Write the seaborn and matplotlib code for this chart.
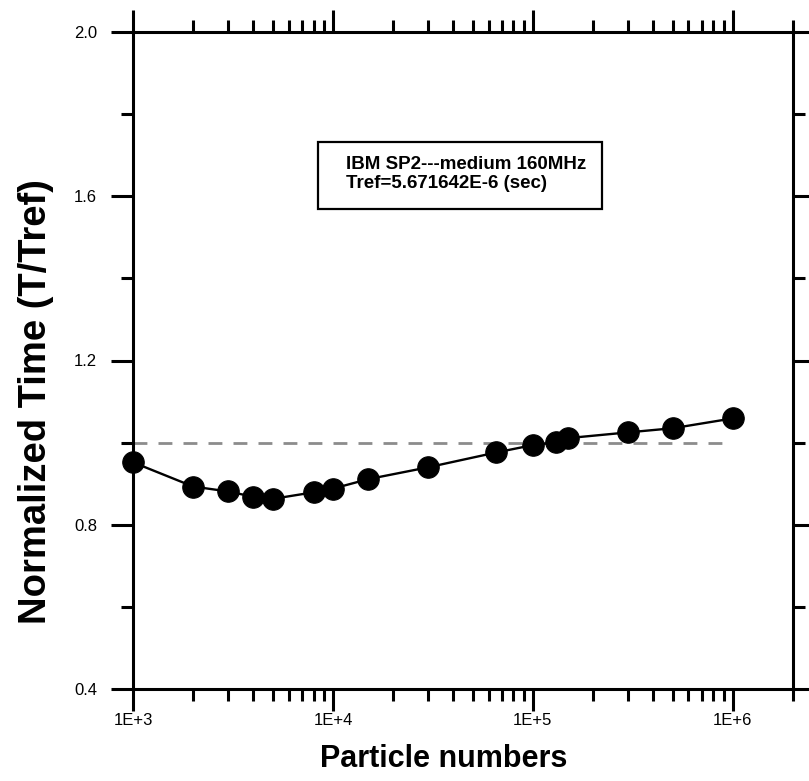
import numpy as np
import pandas as pd
import matplotlib
matplotlib.use("Agg")
import matplotlib.pyplot as plt
import seaborn as sns
from matplotlib.ticker import FixedLocator, FixedFormatter, NullFormatter
from matplotlib.patches import Rectangle

sns.set_style("white")
plt.rcParams['font.family'] = ['Liberation Sans', 'DejaVu Sans']
plt.rcParams['text.color'] = 'black'
plt.rcParams['axes.labelcolor'] = 'black'
plt.rcParams['xtick.color'] = 'black'
plt.rcParams['ytick.color'] = 'black'

particles = [1000, 2000, 3000, 4000, 5000, 8000, 10000, 15000, 30000,
             65536, 100000, 131072, 150000, 300000, 500000, 1000000]
norm_time = [0.952, 0.893, 0.881, 0.868, 0.863, 0.879, 0.888, 0.911, 0.940,
             0.976, 0.994, 1.001, 1.011, 1.025, 1.035, 1.059]
ref_x = [1000, 1000000]
ref_y = [1.0, 1.0]

x_major = [1e3, 1e4, 1e5, 1e6]
x_major_labels = ["1E+3", "1E+4", "1E+5", "1E+6"]
y_major = [0.4, 0.8, 1.2, 1.6, 2.0]
y_major_labels = ["0.4", "0.8", "1.2", "1.6", "2.0"]
y_minor = [0.6, 1.0, 1.4, 1.8]

df = pd.DataFrame({"Particles": particles, "Time": norm_time})
ref = pd.DataFrame({"x": ref_x, "y": ref_y})

fig = plt.figure(figsize=(8.09, 7.81), dpi=100)
ax = fig.add_axes([133/809, 1-689/781, (793-133)/809, (689-32)/781])

sns.lineplot(data=ref, x="x", y="y", ax=ax, color="#8c8c8c", linewidth=2.0,
             dashes=False, linestyle=(0, (5, 4)))
sns.lineplot(data=df, x="Particles", y="Time", ax=ax, color="black", linewidth=1.7,
             marker="o", markersize=15.5, markeredgecolor="black",
             markerfacecolor="black", clip_on=False, zorder=5)

ax.set_xscale("log")
ax.set_xlim(1e3, 2e6)
ax.set_ylim(0.4, 2.0)

minor_x = [m * 10**d for d in range(3, 7) for m in range(2, 10) if m * 10**d <= 2e6]
ax.xaxis.set_major_locator(FixedLocator(x_major))
ax.xaxis.set_major_formatter(FixedFormatter(x_major_labels))
ax.xaxis.set_minor_locator(FixedLocator(minor_x))
ax.xaxis.set_minor_formatter(NullFormatter())
ax.yaxis.set_major_locator(FixedLocator(y_major))
ax.yaxis.set_major_formatter(FixedFormatter(y_major_labels))
ax.yaxis.set_minor_locator(FixedLocator(y_minor))

for s in ax.spines.values():
    s.set_linewidth(2.2)
    s.set_color("black")

ax.tick_params(which="both", direction="out", top=True, right=True,
               bottom=True, left=True, color="black", width=2.2)
ax.tick_params(which="major", length=16)
ax.tick_params(which="minor", length=8.5)
ax.tick_params(axis="x", which="major", labelsize=12, pad=1.5)
ax.tick_params(axis="y", which="major", labelsize=12, pad=10)

ax.set_xlabel("Particle numbers", fontsize=22, fontweight="bold")
ax.set_ylabel("Normalized Time (T/Tref)", fontsize=27.5, fontweight="bold")
ax.xaxis.set_label_coords(0.47, -0.083)
ax.yaxis.set_label_coords(-0.12, 0.437)

box = Rectangle((0.280, 0.7306), 0.711 - 0.280, 0.8326 - 0.7306,
                transform=ax.transAxes, facecolor="white", edgecolor="black",
                linewidth=1.6, zorder=3)
ax.add_patch(box)
ax.text(0.3227, 0.784, "IBM SP2---medium 160MHz\nTref=5.671642E-6 (sec)",
        transform=ax.transAxes, fontsize=13.5, fontweight="bold",
        va="center", ha="left", linespacing=1.15, zorder=4)

legend = ax.get_legend()
if legend is not None:
    legend.remove()

fig.savefig("out.png", dpi=100)
